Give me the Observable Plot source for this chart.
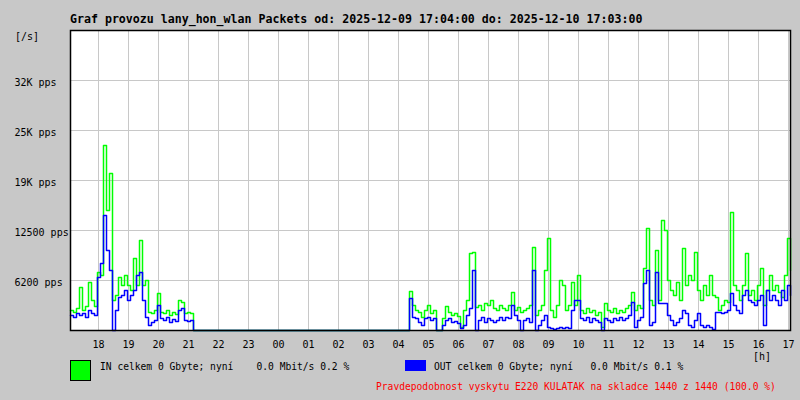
<!DOCTYPE html>
<html>
<head>
<meta charset="utf-8">
<script src="https://cdn.jsdelivr.net/npm/d3@7"></script>
<script src="https://cdn.jsdelivr.net/npm/@observablehq/plot@0.6"></script>
<style>
  html, body { margin: 0; padding: 0; background: #c8c8c8; }
  #wrap { position: relative; width: 800px; height: 400px; overflow: hidden; background: #c8c8c8;
          font-family: "DejaVu Sans Mono", monospace; color: #000; }
  #wrap svg { position: absolute; left: 0; top: 0; }
  .t { position: absolute; white-space: pre; }
</style>
</head>
<body>
<div id="wrap"></div>
<script>
// ---- data (packets per second), one sample every 6 minutes from 2025-12-09 17:04 ----
const startTime = "2025-12-09T17:04:00Z";
const stepMinutes = 6;

const inPps = [
  2500,2250,2750,5375,2500,3000,6000,3750,3000,7250,
  6875,23125,15000,19625,3750,4375,6625,5625,6875,5625,
  5000,9000,5625,11250,5625,6250,2250,2125,2500,4625,
  2250,2125,2500,1875,2250,2000,3750,3500,2125,2250,
  2125,
  0,0,0,0,0,0,0,0,0,
  0,0,0,0,0,0,0,0,0,
  0,0,0,0,0,0,0,0,0,
  0,0,0,0,0,0,0,0,0,
  0,0,0,0,0,0,0,0,0,
  0,0,0,0,0,0,0,0,0,
  0,0,0,0,0,0,0,0,0,
  0,0,0,0,0,0,0,0,0,
  4875,3125,2500,2250,1625,2500,3125,2125,2500,0,0,
  1500,3000,2250,1875,2125,1750,375,2500,3750,9625,
  9750,2875,3125,2500,3375,3125,3750,2750,2500,3125,
  2750,2500,3125,4750,2500,2875,2250,2500,2750,3125,
  10375,1875,2500,3125,7500,11500,2500,1625,3125,6250,
  5625,2500,3125,6000,3125,6875,2500,2125,2750,2250,
  2500,1875,2250,375,3375,2500,2250,2750,2125,2500,
  2250,2750,3125,4750,2500,3125,2750,7750,12750,3750,
  3125,10000,3750,13750,12500,6250,5000,4375,6000,3750,
  10250,5625,6875,6250,9750,5000,3750,5625,4375,6875,
  4375,4125,2500,3125,3750,3500,14750,5625,5000,3750,
  5625,9625,4375,5000,3750,5625,7750,3125,5000,6875,
  5000,5625,4750,4125,6875,11500,7500
];

const outPps = [
  1875,1625,2125,1875,2125,1625,2500,2125,1875,6625,
  8375,14375,10000,7500,0,2500,4125,4375,5000,3750,
  4375,5000,6875,7250,3750,1625,625,1000,1250,3125,
  1500,1250,1625,1000,1375,1125,2500,2750,1250,1125,
  1250,
  0,0,0,0,0,0,0,0,0,
  0,0,0,0,0,0,0,0,0,
  0,0,0,0,0,0,0,0,0,
  0,0,0,0,0,0,0,0,0,
  0,0,0,0,0,0,0,0,0,
  0,0,0,0,0,0,0,0,0,
  0,0,0,0,0,0,0,0,0,
  0,0,0,0,0,0,0,0,0,
  4000,1625,1500,1000,625,1500,1625,1250,1500,0,0,
  625,1250,1500,1000,1125,875,250,625,1875,2750,
  7500,0,1250,1625,1000,1500,1250,1000,1250,1625,
  1250,1625,1500,3125,1875,1250,0,1250,1500,1000,
  7500,0,625,1250,1875,375,250,125,250,375,
  250,375,250,2500,3750,3750,1500,1250,1625,1000,
  1500,1250,1000,0,1500,1250,1000,1500,1250,1625,
  1250,1500,1875,3500,375,1250,1625,5875,7500,625,
  1000,7250,3375,3375,3375,1875,1250,625,1000,1500,
  2500,2125,625,375,1250,2125,625,375,625,375,
  125,2250,2250,2125,2250,2500,4625,3125,2500,2125,
  4375,5000,3750,3500,3125,3750,4375,625,5000,3750,
  4375,3750,3125,5000,3750,5625,4375
];

const hourLabels = ["18","19","20","21","22","23","00","01","02","03","04","05",
                    "06","07","08","09","10","11","12","13","14","15","16","17"];
const yTickValues = [6250, 12500, 18750, 25000, 31250];
const yTickLabels = ["6200 pps", "12500 pps", "19K pps", "25K pps", "32K pps"];
const yMax = 37500;

const titleText = "Graf provozu lany_hon_wlan Packets od: 2025-12-09 17:04:00 do: 2025-12-10 17:03:00";
const inLegend  = "IN celkem 0 Gbyte; nyní    0.0 Mbit/s 0.2 %";
const outLegend = "OUT celkem 0 Gbyte; nyní   0.0 Mbit/s 0.1 %";
const footText  = "Pravdepodobnost vyskytu E220 KULATAK na skladce 1440 z 1440 (100.0 %)";

// ---- build ----
if (inPps.length !== outPps.length) throw new Error("length mismatch " + inPps.length + " " + outPps.length);
const t0 = new Date(startTime).getTime();
const rows = inPps.map((v, i) => ({t: new Date(t0 + i * stepMinutes * 60000), inV: v, outV: outPps[i]}));
const hourTicks = hourLabels.map((_, k) => new Date(t0 + (56 + 60 * k) * 60000));

const chart = Plot.plot({
  width: 800, height: 400,
  marginLeft: 70, marginRight: 10, marginTop: 30, marginBottom: 70,
  x: {type: "utc", domain: [new Date(t0), new Date(t0 + 1440 * 60000)], axis: null},
  y: {domain: [0, yMax], axis: null},
  style: {background: "transparent", fontFamily: "'DejaVu Sans Mono', monospace", fontSize: "10px", color: "#000", overflow: "visible"},
  marks: [
    Plot.frame({fill: "white", stroke: null}),
    Plot.ruleX(hourTicks, {stroke: "#c8c8c8", strokeWidth: 1}),
    Plot.ruleY(yTickValues, {stroke: "#c8c8c8", strokeWidth: 1}),
    Plot.line(rows, {x: "t", y: "inV", stroke: "#00ff00", strokeWidth: 1.5, curve: "step-after"}),
    Plot.line(rows, {x: "t", y: "outV", stroke: "#0000ff", strokeWidth: 1.5, curve: "step-after"}),
    Plot.frame({stroke: "#000", strokeWidth: 1.5}),
    Plot.text(yTickValues, {y: d => d, text: (d, i) => yTickLabels[i], frameAnchor: "left",
      textAnchor: "start", dx: -56, dy: 2, fill: "#000", fontSize: 10}),
    Plot.text(hourTicks, {x: d => d, text: (d, i) => hourLabels[i], frameAnchor: "bottom",
      dy: 17, fill: "#000", fontSize: 10})
  ]
});

const wrap = document.getElementById("wrap");
wrap.appendChild(chart);

function addText(txt, left, top, size, extra) {
  const d = document.createElement("div");
  d.className = "t";
  d.textContent = txt;
  d.style.left = left + "px";
  d.style.top = top + "px";
  d.style.fontSize = size + "px";
  d.style.lineHeight = "12px";
  Object.assign(d.style, extra || {});
  wrap.appendChild(d);
}
function addBox(left, top, w, h, color, border) {
  const d = document.createElement("div");
  d.style.position = "absolute";
  d.style.left = left + "px"; d.style.top = top + "px";
  d.style.width = w + "px"; d.style.height = h + "px";
  d.style.boxSizing = "border-box";
  d.style.background = color;
  if (border) d.style.border = "1px solid #000";
  wrap.appendChild(d);
}

addText(titleText, 70, 12.5, 11.6, {fontWeight: "bold"});
addText("[/s]", 15, 31, 10);
addText("[h]", 753, 351, 10);
addBox(70, 360, 21, 21, "#00ff00", true);
addText(inLegend, 100, 360.5, 9.65);
addBox(405, 360, 21, 11, "#0000ff", false);
addText(outLegend, 434, 360.5, 9.65);
addText(footText, 376, 381, 9.65, {color: "#ff0000"});
</script>
</body>
</html>
